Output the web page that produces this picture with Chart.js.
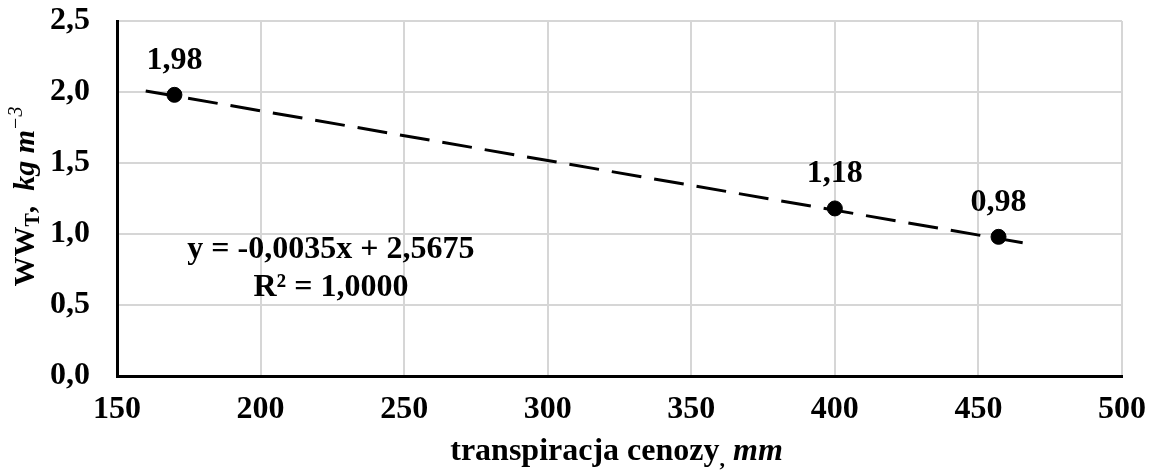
<!DOCTYPE html>
<html>
<head>
<meta charset="utf-8">
<script src="https://cdn.jsdelivr.net/npm/chart.js@4"></script>
<style>
  body { margin: 0; background: #fff; }
  canvas { display: block; }
</style>
</head>
<body>
<canvas id="chartTranspiracja" width="1153" height="475"></canvas>
<script>
// pomiary: transpiracja cenozy [mm] i WW_T [kg m-3]
const transpiracja = [170, 400, 457];
const wwT = [1.98, 1.18, 0.98];

// linia trendu (liniowa, prognoza 10 mm w obie strony)
const trendX = [160, 468];
const trendY = [2.0075, 0.9295];

const osX = { min: 150, max: 500, krok: 50 };
const osY = { min: 0, max: 2.5, krok: 0.5 };

const rownanie = ['y = -0,0035x + 2,5675', 'R² = 1,0000'];

const FONT = "'Liberation Serif', 'Times New Roman', serif";
Chart.defaults.font.family = FONT;
Chart.defaults.font.weight = 'bold';
Chart.defaults.color = '#000';

const przecinek = (v, d) => v.toFixed(d).replace('.', ',');

// rysuje tekst złożony z kawałków o różnych fontach (indeksy górne/dolne)
function tekstMieszany(ctx, runs, x, y) {
    let w = 0;
    runs.forEach(r => { ctx.font = r.font; w += ctx.measureText(r.text).width; });
    let cx = x - w / 2;
    runs.forEach(r => {
        ctx.font = r.font;
        ctx.fillText(r.text, cx, y + (r.dy || 0));
        cx += ctx.measureText(r.text).width;
    });
}

const opisy = {
    id: 'opisy',
    afterDatasetsDraw(chart) {
        const ctx = chart.ctx;
        const xs = chart.scales.x, ys = chart.scales.y;
        const area = chart.chartArea;
        ctx.save();
        ctx.fillStyle = '#000';
        ctx.textBaseline = 'alphabetic';

        // etykiety wartości nad punktami
        ctx.textAlign = 'center';
        ctx.font = 'bold 32px ' + FONT;
        chart.getDatasetMeta(0).data.forEach((p, i) => {
            ctx.fillText(przecinek(wwT[i], 2), p.x, p.y - 26);
        });

        // równanie trendu
        const ex = xs.getPixelForValue(224.5);
        const ey = ys.getPixelForValue(0.83);
        ctx.font = 'bold 32px ' + FONT;
        ctx.fillText(rownanie[0], ex, ey);
        ctx.fillText(rownanie[1], ex, ey + 38);

        ctx.textAlign = 'left';
        // tytuł osi X
        tekstMieszany(ctx, [
            { text: 'transpiracja cenozy', font: 'bold 32px ' + FONT },
            { text: ',', font: 'bold 22px ' + FONT, dy: 6 },
            { text: ' ', font: 'bold 32px ' + FONT },
            { text: 'mm', font: 'italic bold 32px ' + FONT }
        ], (area.left + area.right) / 2 - 3, 460);

        // tytuł osi Y (obrócony)
        ctx.translate(34, (area.top + area.bottom) / 2 - 2);
        ctx.rotate(-Math.PI / 2);
        tekstMieszany(ctx, [
            { text: 'WW', font: 'bold 30px ' + FONT },
            { text: 'T', font: 'bold 20px ' + FONT, dy: 5 },
            { text: ',  ', font: 'bold 30px ' + FONT },
            { text: 'kg m', font: 'italic bold 30px ' + FONT },
            { text: '\u22123', font: 'italic 20px ' + FONT, dy: -12 }
        ], 0, 0);
        ctx.restore();
    }
};

new Chart(document.getElementById('chartTranspiracja'), {
    type: 'scatter',
    data: {
        datasets: [{
            label: 'WW_T',
            data: transpiracja.map((x, i) => ({ x: x, y: wwT[i] })),
            backgroundColor: '#000',
            borderColor: '#000',
            pointRadius: 7.5,
            pointHoverRadius: 7.5,
            showLine: false
        }, {
            label: 'trend',
            data: trendX.map((x, i) => ({ x: x, y: trendY[i] })),
            borderColor: '#000',
            borderWidth: 3,
            borderDash: [30, 13],
            pointRadius: 0,
            showLine: true,
            fill: false
        }]
    },
    options: {
        responsive: false,
        animation: false,
        layout: { padding: { top: 21, right: 31, left: 0, bottom: 0 } },
        plugins: {
            legend: { display: false },
            tooltip: { enabled: false }
        },
        scales: {
            x: {
                type: 'linear',
                min: osX.min,
                max: osX.max,
                ticks: {
                    stepSize: osX.krok,
                    font: { size: 32, weight: 'bold' },
                    padding: 15,
                    maxRotation: 0
                },
                grid: { color: '#d6d6d6', lineWidth: 2, drawTicks: false },
                border: { color: '#000', width: 3 },
                afterFit(s) { s.height = 99; s.paddingLeft = 0; s.paddingRight = 0; }
            },
            y: {
                min: osY.min,
                max: osY.max,
                ticks: {
                    stepSize: osY.krok,
                    font: { size: 32, weight: 'bold' },
                    padding: 27,
                    callback: v => przecinek(v, 1)
                },
                grid: { color: '#d6d6d6', lineWidth: 2, drawTicks: false },
                border: { color: '#000', width: 3 },
                afterFit(s) { s.width = 117; s.paddingTop = 0; s.paddingBottom = 0; }
            }
        }
    },
    plugins: [opisy]
});
</script>
</body>
</html>
